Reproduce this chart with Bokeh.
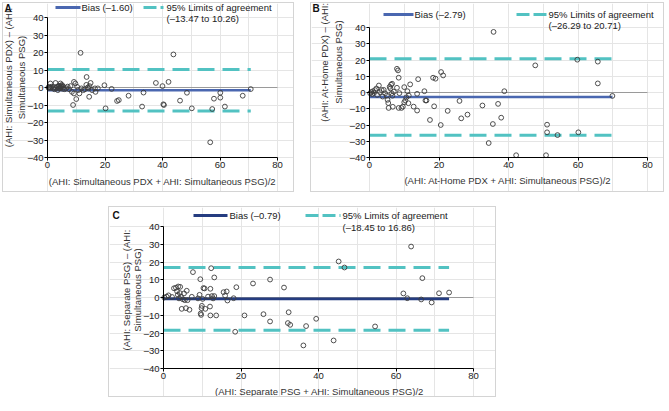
import math
from bokeh.plotting import figure
from bokeh.models import FixedTicker, Spacer, Range1d, LinearAxis
from bokeh.layouts import row, column
from bokeh.embed import file_html
from bokeh.resources import INLINE
from bokeh.core.properties import value

# ---------------- data ----------------
X_TICKS = [0, 20, 40, 60, 80]
Y_TICKS = [-40, -30, -20, -10, 0, 10, 20, 30, 40]
Y_TICK_LABELS = ["–40", "–30", "–20", "–10", "0", "10", "20", "30", "40"]

A_x = [0.3, 0.5, 0.6, 1.0, 1.0, 1.2, 1.5, 2.0, 2.2, 2.5, 2.8, 3.0, 3.3, 3.6, 3.8, 4.0, 4.0, 4.2,
       4.4, 4.5, 4.6, 4.8, 5.0, 5.2, 5.3, 5.6, 6.0, 6.5, 7.0, 7.5, 8.0, 8.5, 8.9, 9.2, 9.2, 9.7,
       10.0, 10.3, 10.7, 11.1, 11.5, 11.8, 12.5, 13.0, 13.5, 13.6, 14.0, 14.3, 14.5, 14.6, 15.0,
       15.5, 16.5, 16.7, 17.5, 19.8, 20.2, 22.3, 24.2, 24.8, 28.2, 32.9, 33.4, 37.7, 40.0, 40.3,
       40.5, 42.1, 43.8, 46.1, 48.5, 50.2, 56.6, 57.3, 57.9, 60.1, 60.1, 61.7, 67.9, 70.7]
A_y = [0.0, -0.2, 0.3, -0.3, 2.3, 0.1, 0.5, -0.6, 0.2, -1.0, 2.6, -0.2, 0.5, -1.5, 0.3, 1.0, -0.6, -0.4,
       0.6, 2.3, -0.3, 0.8, 1.5, 0.9, -0.8, 0.3, -1.0, -0.4, 0.5, -1.0, 0.8, -2.5, -10.0, 3.2, -3.4, 2.3,
       -6.6, 0.4, -1.5, -3.4, 19.8, -0.5, -1.5, -1.0, 1.5, 6.0, 0.0, -0.5, -5.3, 0.8, 2.6,
       -1.5, -0.5, -2.5, -0.5, 1.3, -11.9, -0.8, -7.7, -7.2, -4.7, -10.9, -2.9, 2.6, 0.8, -9.6,
       -10.0, 3.2, 18.9, -7.5, -3.0, -11.9, -31.3, -12.3, -6.4, -3.0, -5.8, -10.9, -4.7, -0.9]

B_x = [0.2, 0.5, 0.8, 1.0, 1.3, 1.6, 2.0, 2.2, 2.7, 3.0, 3.5, 3.8, 4.1, 4.5, 5.0, 5.2, 5.4, 5.5,
       5.8, 6.0, 6.2, 6.5, 6.4, 6.6, 6.7, 7.0, 7.9, 8.2, 7.9, 8.4, 8.6, 8.4, 9.2, 9.6, 10.0, 10.0,
       10.3, 10.6, 10.9, 11.3, 11.2, 11.7, 12.7, 13.7, 13.7, 14.0, 15.8, 16.1, 16.4, 17.4, 18.3,
       18.6, 19.0, 20.5, 20.6, 21.2, 22.5, 25.9, 26.4, 28.2, 32.5, 34.3, 35.5, 35.7, 37.0, 37.9,
       38.8, 42.2, 47.7, 50.8, 51.1, 51.1, 54.1, 59.8, 60.1, 65.7, 65.7, 69.9]
B_y = [-0.5, 0.3, -1.0, 0.8, -0.3, 1.5, 2.5, -1.5, 4.3, 0.2, 1.5, -2.5, 1.6, -0.5, -1.9, -4.5, -6.5, -9.5,
       3.5, 2.5, 4.8, 5.4, -0.5, -2.0, -8.8, 0.5, 14.6, 13.6, 2.9, 9.1, -0.4, -9.5, -9.5, -8.7, 3.3, -6.0,
       -4.9, -3.0, 0.8, -1.9, -6.6, 5.0, -8.7, -11.1, -0.8, 8.2, 0.8, -4.9, -4.9, -16.9, 9.1,
       -8.5, 8.5, -20.0, 12.6, 10.5, -11.3, -5.2, -15.9, -13.6, -8.0, -31.1, -19.4, 37.3, -7.0, -15.5,
       0.8, -38.6, 16.7, -38.6, -19.8, -24.5, -26.2, 20.2, -24.5, 19.0, 5.6, -2.1]

C_x = [0.2, 0.8, 1.3, 2.2, 2.7, 3.2, 3.5, 3.7, 3.8, 4.0, 4.2, 4.3, 4.5, 4.7, 5.0, 5.3, 5.5, 5.8,
       6.0, 6.2, 6.7, 7.3, 7.6, 8.9, 9.3, 9.5, 9.6, 9.7, 9.8, 9.9, 10.1, 10.3, 10.6, 10.8, 11.5,
       12.0, 12.1, 12.1, 12.3, 12.5, 12.8, 13.1, 13.1, 13.6, 15.5, 15.9, 16.3, 16.5, 18.1, 18.5,
       18.8, 20.9, 23.1, 25.8, 27.5, 27.5, 31.1, 32.1, 32.3, 32.7, 36.1, 36.8, 39.4, 43.9, 45.2,
       46.7, 54.6, 61.9, 62.9, 63.9, 66.5, 66.8, 69.2, 71.1, 73.7]
C_y = [0.0, 0.5, 1.2, 0.3, 5.2, 5.5, 3.5, 1.5, 6.2, -0.5, 2.5, 6.0, 0.5, -6.4, -1.0, 2.3, -1.5, -6.0,
       3.8, -1.5, -6.9, 0.4, 14.3, -0.5, 1.5, 10.3, -9.0, -9.8, -6.0, -4.7, -0.8, 5.3, 5.1, -6.4, 0.5,
       -5.1, 4.9, -10.1, 16.5, 0.8, -0.5, 11.3, 0.8, -10.1, 3.0, 1.1, 3.4, -1.7, -0.4, -19.3,
       5.8, -10.1, 7.9, -9.4, 10.1, -13.5, 5.6, -14.4, -8.3, -15.4, -27.0, -16.1, -12.0, -24.2, 20.3,
       16.9, -16.3, 2.3, -0.4, 28.7, -1.1, 10.9, -2.8, 2.4, 2.8]

BIAS = [-1.60, -2.79, -0.79]
LOWER = [-13.47, -26.29, -18.45]
UPPER = [10.26, 20.71, 16.86]
LETTERS = ["A", "B", "C"]
X_LABELS = ["(AHI: Simultaneous PDX + AHI: Simultaneous PSG)/2",
            "(AHI: At-Home PDX + AHI: Simultaneous PSG)/2",
            "(AHI: Separate PSG + AHI: Simultaneous PSG)/2"]
Y_LABELS_1 = ["(AHI: Simultaneous PDX) – (AHI:",
              "(AHI: At-Home PDX) – (AHI:",
              "(AHI: Separate PSG) – (AHI:"]
Y_LABELS_2 = ["Simultaneous PSG)", "Simultaneous PSG)", "Simultaneous PSG)"]
BIAS_LABELS = ["Bias (–1.60)", "Bias (–2.79)", "Bias (–0.79)"]
LOA_LABEL = "95% Limits of agreement"
LOA_RANGES = ["(–13.47 to 10.26)", "(–26.29 to 20.71)", "(–18.45 to 16.86)"]

# ---------------- styling / layout (pixel positions inside each panel) ----------------
FONT = "Liberation Sans"
FS = "9.5px"
TEAL = "#52c2c2"
BIAS_COLORS = ["#4a67b0", "#4a67b0", "#253c80"]
BORDER = "1px solid #d4d4d4"

LAYOUT = [
    # W, H, x0px, x80px, y40px, ym40px, letter(x,y), row1 y, row2 y,
    # bias sample x0,x1, bias text x, dash x0,x1, dash text x,
    # ylabel line1 x, line2 x, ylabel centre y, xlabel centre x, xlabel y
    dict(W=292, H=190, x0=44, x80=274, y40=14, ym40=154, letter=(1, 4.5), r1=4, r2=15,
         bs=(52, 77), bt=78, ds=(140, 160), dt=163, yl=(5, 18), ylc=74, xlc=159, xly=178),
    dict(W=354, H=190, x0=58, x80=336, y40=24, ym40=154, letter=(1, 4.5), r1=11, r2=22,
         bs=(72, 102), bt=103, ds=(205, 235), dt=237, yl=(13, 27), ylc=58.5, xlc=196.5, xly=177),
    dict(W=388, H=191, x0=54, x80=364, y40=19, ym40=161, letter=(3, 7.5), r1=8, r2=20,
         bs=(84, 118), bt=120, ds=(196, 231), dt=233, yl=(16.5, 27.5), ylc=82.5, xlc=210, xly=184),
]


def panel(i, xs, ys):
    L = LAYOUT[i]
    W, H = L["W"], L["H"]
    ppx = (L["x80"] - L["x0"]) / 80.0
    ppu = (L["ym40"] - L["y40"]) / 80.0

    def X(px):
        return (px - L["x0"]) / ppx

    def Y(py):
        return 40 - (py - L["y40"]) / ppu

    p = figure(width=W, height=H, x_range=Range1d(X(0), X(W)), y_range=Range1d(Y(H), Y(0)),
               output_backend="svg", toolbar_location=None,
               x_axis_location=None, y_axis_location=None, min_border=0)
    p.styles = {"border": BORDER}
    p.outline_line_color = None

    xaxis = LinearAxis(fixed_location=-40, ticker=FixedTicker(ticks=X_TICKS), bounds=(0, 80))
    yaxis = LinearAxis(fixed_location=0, ticker=FixedTicker(ticks=Y_TICKS), bounds=(-40, 40))
    yaxis.major_label_overrides = {t: l for t, l in zip(Y_TICKS, Y_TICK_LABELS)}
    for ax in (xaxis, yaxis):
        ax.axis_line_color = "black"
        ax.major_tick_line_color = "black"
        ax.minor_tick_line_color = None
        ax.major_tick_in = 0
        ax.major_tick_out = 3
        ax.major_label_text_font = FONT
        ax.major_label_text_font_size = FS
        ax.major_label_text_color = "#222222"
        ax.major_label_standoff = 1
    p.add_layout(xaxis, "below")
    p.add_layout(yaxis, "left")

    # axis titles
    txt = dict(text_font=value(FONT), text_font_size=FS, text_color="#333333",
               text_baseline="middle", text_align="center")
    p.text(x=[X(L["xlc"])], y=[Y(L["xly"])], text=[X_LABELS[i]], **txt)
    p.text(x=[X(L["yl"][0]), X(L["yl"][1])], y=[Y(L["ylc"]), Y(L["ylc"])],
           text=[Y_LABELS_1[i], Y_LABELS_2[i]], angle=math.pi / 2, **txt)

    # zero reference line across the x axis extent
    p.line([X_TICKS[0], X_TICKS[-1]], [0, 0], line_color="#9a9a9a", line_width=1)

    xend = max(xs)
    p.line([0, xend], [UPPER[i], UPPER[i]], line_color=TEAL, line_width=3, line_dash="17 8")
    p.line([0, xend], [LOWER[i], LOWER[i]], line_color=TEAL, line_width=3, line_dash="17 8")
    p.line([0, xend], [BIAS[i], BIAS[i]], line_color=BIAS_COLORS[i], line_width=2.6)

    p.scatter(xs, ys, marker="circle", size=4.8, fill_color=None,
              line_color="#3c3c3c", line_width=0.9)

    # legend
    r1 = Y(L["r1"])
    p.line([X(L["bs"][0]), X(L["bs"][1])], [r1, r1], line_color=BIAS_COLORS[i], line_width=3)
    p.line([X(L["ds"][0]), X(L["ds"][1])], [r1, r1], line_color=TEAL, line_width=3, line_dash="13 4")
    leg = dict(text_font=value(FONT), text_font_size=FS, text_color="#222222",
               text_baseline="middle", text_align="left")
    p.text(x=[X(L["bt"]), X(L["dt"]), X(L["dt"])], y=[r1, r1, Y(L["r2"])],
           text=[BIAS_LABELS[i], LOA_LABEL, LOA_RANGES[i]], **leg)

    # panel letter
    p.text(x=[X(L["letter"][0])], y=[Y(L["letter"][1])], text=[LETTERS[i]],
           text_font=value(FONT), text_font_size="10px", text_font_style="bold",
           text_color="#111111", text_baseline="middle", text_align="left")
    return p


pA = panel(0, A_x, A_y)
pB = panel(1, B_x, B_y)
pC = panel(2, C_x, C_y)

layout = column(
    Spacer(height=2),
    row(Spacer(width=2), pA, Spacer(width=16), pB),
    Spacer(height=14),
    row(Spacer(width=108), pC),
)

open("out.html", "w").write(file_html(layout, INLINE))
